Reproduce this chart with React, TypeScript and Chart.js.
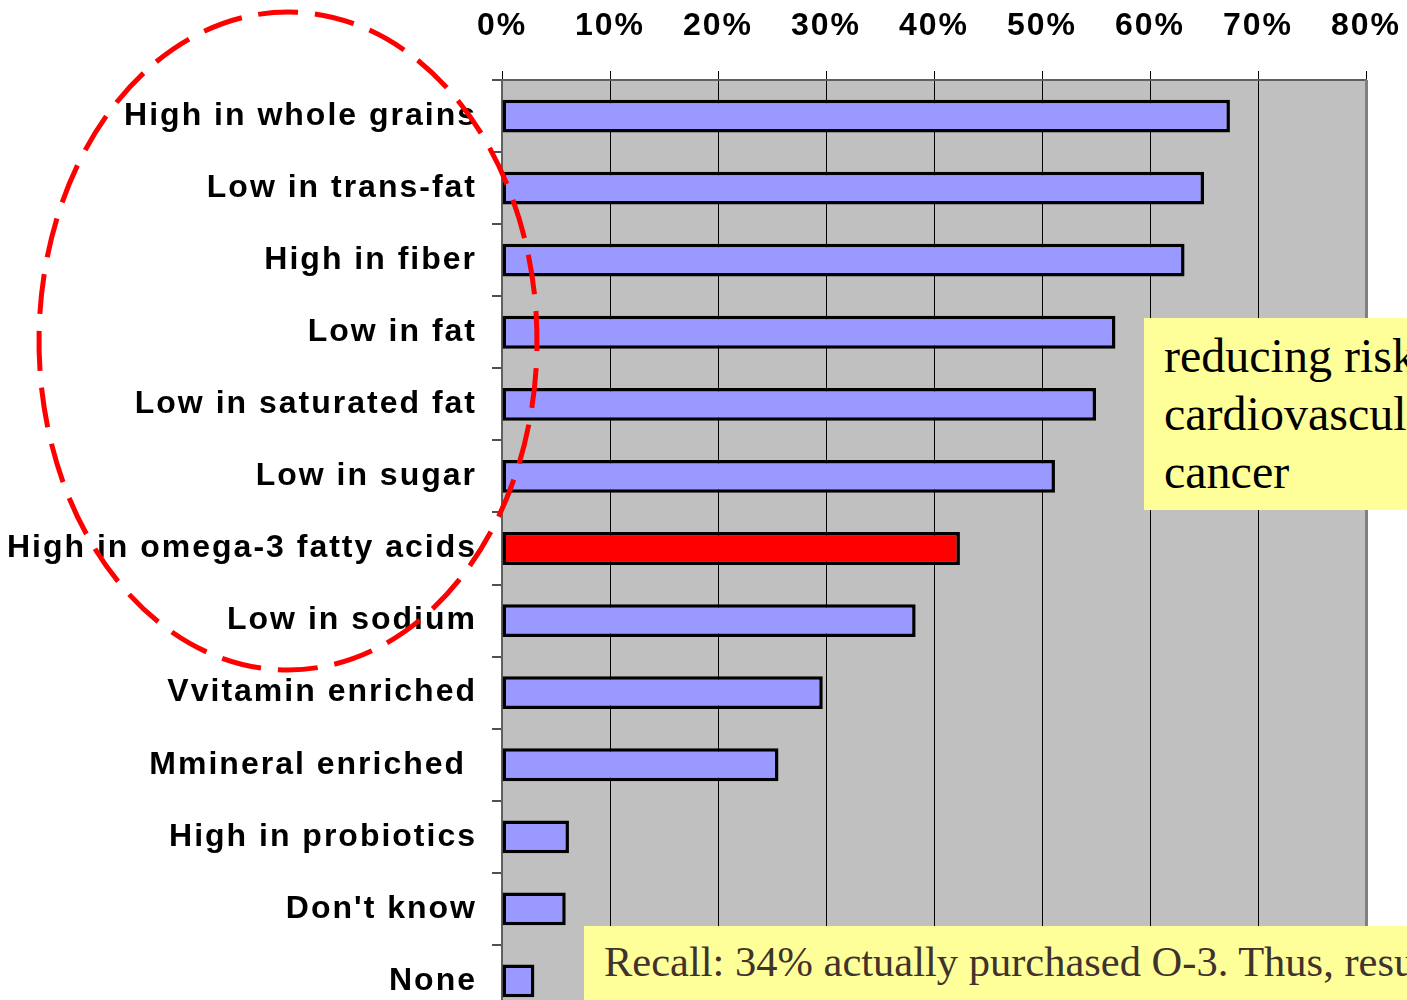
import React, { useEffect, useRef } from 'react';
import { Chart, registerables } from 'chart.js';

Chart.register(...registerables);

// ---- data ----
const categories = [
  'High in whole grains',
  'Low in trans-fat',
  'High in fiber',
  'Low in fat',
  'Low in saturated fat',
  'Low in sugar',
  'High in omega-3 fatty acids',
  'Low in sodium',
  'Vvitamin enriched',
  'Mmineral enriched ',
  'High in probiotics',
  "Don't know",
  'None',
];
const percentages = [67.4, 65.0, 63.2, 56.8, 55.0, 51.2, 42.4, 38.3, 29.7, 25.6, 6.2, 5.9, 3.0];
const highlightedCategories = ['High in omega-3 fatty acids'];
const xAxisMin = 0;
const xAxisMax = 80;
const xAxisStep = 10;
const noteRiskLines = ['reducing risk of', 'cardiovascular', 'cancer'];
const noteRecallLines = ['Recall: 34% actually purchased O-3. Thus, results'];

const LABEL_FONT = "'Liberation Sans', Arial, sans-serif";

const decorPlugin = {
  id: 'decor',
  beforeLayout(chart: any) {
    chart.ctx.letterSpacing = '2px';
  },
  beforeDraw(chart: any) {
    const { ctx, chartArea } = chart;
    ctx.letterSpacing = '2px';
    ctx.save();
    ctx.fillStyle = '#C0C0C0';
    ctx.fillRect(chartArea.left, chartArea.top, chartArea.right - chartArea.left, chartArea.bottom - chartArea.top);
    ctx.restore();
  },
  afterDraw(chart: any) {
    const { ctx, chartArea } = chart;
    ctx.save();
    // right edge of plot
    ctx.strokeStyle = '#808080';
    ctx.lineWidth = 3;
    ctx.beginPath();
    ctx.moveTo(chartArea.right + 0.5, chartArea.top);
    ctx.lineTo(chartArea.right + 0.5, chartArea.bottom);
    ctx.stroke();
    // red dashed ellipse highlighting the labels
    ctx.strokeStyle = '#FF0000';
    ctx.lineWidth = 5;
    ctx.setLineDash([40, 17]);
    ctx.beginPath();
    ctx.ellipse(288, 341, 249, 329, 0, -Math.PI / 2 - 0.12, 1.5 * Math.PI - 0.12);
    ctx.stroke();
    ctx.restore();
  },
};

export default function App() {
  const canvasRef = useRef<HTMLCanvasElement | null>(null);

  useEffect(() => {
    if (!canvasRef.current) return;
    const chart = new Chart(canvasRef.current, {
      type: 'bar',
      data: {
        labels: categories,
        datasets: [
          {
            data: percentages,
            backgroundColor: categories.map((c) => (highlightedCategories.includes(c) ? '#FF0000' : '#9999FF')),
            borderColor: '#000000',
            borderWidth: 3.5,
            borderSkipped: false,
            barPercentage: 0.455,
            categoryPercentage: 1,
          },
        ],
      },
      options: {
        indexAxis: 'y',
        responsive: false,
        animation: false,
        devicePixelRatio: 1,
        layout: { padding: { left: 0, top: 0, right: 41, bottom: 13 } },
        plugins: { legend: { display: false }, tooltip: { enabled: false } },
        scales: {
          x: {
            type: 'linear',
            position: 'top',
            min: xAxisMin,
            max: xAxisMax,
            ticks: {
              stepSize: xAxisStep,
              callback: (v: any) => `${v}%`,
              color: '#000000',
              font: { family: LABEL_FONT, size: 32, weight: 'bold' },
              padding: 26,
              maxRotation: 0,
            },
            grid: { color: '#000000', lineWidth: 1, tickLength: 9, drawOnChartArea: true },
            border: { display: true, color: '#606060', width: 2 },
            afterFit: (scale: any) => {
              scale.height = 80;
              scale.paddingLeft = 0;
              scale.paddingRight = 0;
            },
          },
          y: {
            type: 'category',
            offset: true,
            ticks: {
              color: '#000000',
              font: { family: LABEL_FONT, size: 32, weight: 'bold' },
              padding: 15,
              autoSkip: false,
            },
            grid: { color: '#505050', lineWidth: 2, tickLength: 10, drawOnChartArea: false, offset: true },
            border: { display: true, color: '#606060', width: 2 },
            afterFit: (scale: any) => {
              scale.width = 502;
              scale.paddingTop = 0;
              scale.paddingBottom = 0;
            },
          },
        },
      },
      plugins: [decorPlugin],
    } as any);
    return () => chart.destroy();
  }, []);

  return (
    <div
      style={{
        position: 'fixed',
        left: 0,
        top: 0,
        width: 1407,
        height: 1000,
        overflow: 'hidden',
        background: '#FFFFFF',
      }}
    >
      <canvas ref={canvasRef} width={1407} height={1030} style={{ position: 'absolute', left: 0, top: 0 }} />
      <div
        style={{
          position: 'absolute',
          left: 1144,
          top: 318,
          width: 700,
          height: 192,
          boxSizing: 'border-box',
          background: '#FFFF99',
          padding: '9px 0 0 20px',
          fontFamily: "'Liberation Serif', 'Times New Roman', serif",
          fontSize: 48,
          lineHeight: '58px',
          color: '#000000',
          whiteSpace: 'nowrap',
        }}
      >
        {noteRiskLines.map((l) => (
          <div key={l}>{l}</div>
        ))}
      </div>
      <div
        style={{
          position: 'absolute',
          left: 584,
          top: 926,
          width: 1200,
          height: 150,
          boxSizing: 'border-box',
          background: '#FFFF99',
          padding: '11px 0 0 20px',
          fontFamily: "'Liberation Serif', 'Times New Roman', serif",
          fontSize: 42.5,
          lineHeight: '50px',
          color: '#40322C',
          whiteSpace: 'nowrap',
        }}
      >
        {noteRecallLines.map((l) => (
          <div key={l}>{l}</div>
        ))}
      </div>
    </div>
  );
}
